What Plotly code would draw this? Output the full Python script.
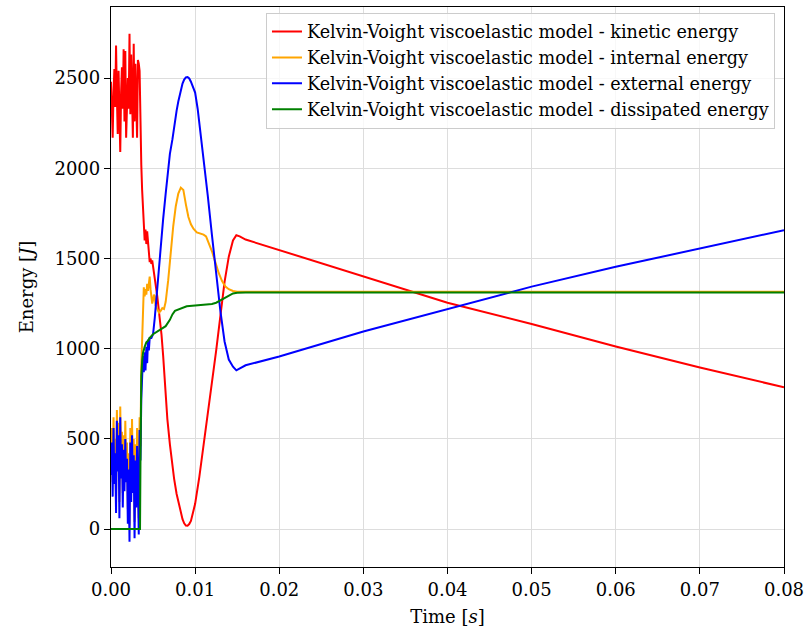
import plotly.graph_objects as go

# ---------------- data ----------------
noise_t = [0.0000, 0.0001, 0.0002, 0.0003, 0.0004, 0.0005, 0.0006, 0.0007, 0.0008, 0.0009,
           0.0010, 0.0011, 0.0012, 0.0013, 0.0014, 0.0015, 0.0016, 0.0017, 0.0018, 0.0019,
           0.0020, 0.0021, 0.0022, 0.0023, 0.0024, 0.0025, 0.0026, 0.0027, 0.0028, 0.0029,
           0.0030, 0.0031, 0.0032, 0.0033, 0.0034, 0.0035]

kin_noise = [2480, 2290, 2170, 2420, 2550, 2340, 2680, 2400, 2190, 2540,
             2300, 2090, 2420, 2560, 2330, 2660, 2260, 2650, 2170, 2340,
             2500, 2330, 2745, 2300, 2630, 2420, 2170, 2690, 2260, 2580,
             2400, 2170, 2600, 2580, 2540, 2210]
ext_noise = [300, 480, 180, 560, 250, 420, 90, 600, 320, 520,
             60, 620, 280, 470, 120, 440, 210, 500, 260, 390,
             30, 330, -70, 480, 150, 520, 200, 410, -50, 380,
             120, 460, 270, -30, 550, 380]
int_noise = [380, 560, 260, 620, 330, 500, 180, 660, 400, 590,
             150, 680, 360, 540, 200, 520, 290, 600, 340, 480,
             110, 420, 20, 560, 240, 610, 280, 500, 40, 470,
             210, 560, 350, 60, 620, 460]

kin_t = [0.0036, 0.0037, 0.0038, 0.0039, 0.0040, 0.0041, 0.0042, 0.0043, 0.0044, 0.0045,
         0.0046, 0.0047, 0.0048, 0.0049, 0.0050, 0.0052, 0.0055, 0.0058, 0.0060, 0.0062,
         0.0065, 0.0067, 0.0070, 0.0072, 0.0075, 0.0078, 0.0080, 0.0082, 0.0085, 0.0087,
         0.0089, 0.0091, 0.0093, 0.0095, 0.0100, 0.0105, 0.0110, 0.0115, 0.0120, 0.0125,
         0.0130, 0.0135, 0.0140, 0.0145, 0.0149, 0.0153, 0.0160, 0.0200, 0.0300, 0.0400,
         0.0500, 0.0600, 0.0700, 0.0800]
kin_e = [2020, 1880, 1770, 1650, 1600, 1660, 1580, 1650, 1590, 1510,
         1480, 1500, 1470, 1490, 1450, 1390, 1290, 1170, 1080, 960,
         740, 610, 470, 385, 280, 195, 150, 110, 55, 32,
         20, 19, 28, 45, 140, 290, 460, 620, 790, 990,
         1180, 1370, 1510, 1600, 1629, 1623, 1605, 1546, 1399, 1255,
         1137, 1012, 896, 786]

ext_t = [0.0036, 0.0037, 0.0038, 0.0039, 0.0040, 0.0041, 0.0042, 0.0043, 0.0044, 0.0045,
         0.0046, 0.0048, 0.0050, 0.0052, 0.0054, 0.0056, 0.0058, 0.0060, 0.0062, 0.0065,
         0.0068, 0.0070, 0.0073, 0.0075, 0.0078, 0.0080, 0.0083, 0.0085, 0.0087, 0.0089,
         0.0091, 0.0093, 0.0095, 0.0098, 0.0100, 0.0103, 0.0105, 0.0110, 0.0115, 0.0120,
         0.0125, 0.0130, 0.0135, 0.0140, 0.0145, 0.0149, 0.0160, 0.0200, 0.0300, 0.0400,
         0.0500, 0.0600, 0.0700, 0.0800]
ext_e = [720, 900, 960, 870, 980, 880, 1010, 920, 1050, 990,
         1060, 1060, 1080, 1170, 1290, 1410, 1520, 1620, 1720, 1860,
         2000, 2080, 2160, 2230, 2320, 2370, 2440, 2470, 2492, 2504,
         2506, 2498, 2480, 2445, 2420, 2330, 2250, 2080, 1850, 1630,
         1420, 1210, 1040, 940, 900, 880, 908, 957, 1095, 1220,
         1344, 1454, 1555, 1657]

int_t = [0.0036, 0.0037, 0.0038, 0.0039, 0.0040, 0.0041, 0.0042, 0.0043, 0.0044, 0.0045,
         0.0046, 0.0047, 0.0048, 0.0049, 0.0050, 0.0051, 0.0052, 0.0053, 0.0055, 0.0057,
         0.0059, 0.0061, 0.0063, 0.0065, 0.0068, 0.0071, 0.0074, 0.0077, 0.0080, 0.0083,
         0.0086, 0.0089, 0.0092, 0.0095, 0.0098, 0.0102, 0.0106, 0.0110, 0.0113, 0.0116,
         0.0120, 0.0124, 0.0128, 0.0132, 0.0136, 0.0140, 0.0145, 0.0150, 0.0160, 0.0800]
int_e = [900, 1100, 1250, 1340, 1290, 1330, 1300, 1360, 1320, 1370,
         1400, 1330, 1280, 1250, 1270, 1300, 1290, 1240, 1220, 1200,
         1210, 1225, 1220, 1260, 1380, 1540, 1680, 1790, 1860, 1893,
         1880, 1800, 1730, 1690, 1665, 1645, 1638, 1632, 1622, 1590,
         1540, 1480, 1420, 1375, 1345, 1330, 1320, 1316, 1316, 1316]

dis_t = [0.0000, 0.00345, 0.0035, 0.00355, 0.0036, 0.0037, 0.0038, 0.0040, 0.0042, 0.0044,
         0.0046, 0.0050, 0.0055, 0.0060, 0.0065, 0.0070, 0.0073, 0.0076, 0.0080, 0.0085,
         0.0090, 0.0100, 0.0110, 0.0120, 0.0125, 0.0130, 0.0135, 0.0140, 0.0145, 0.0150,
         0.0160, 0.0800]
dis_e = [0, 0, 350, 700, 850, 930, 975, 1010, 1035, 1045,
         1060, 1080, 1095, 1110, 1125, 1160, 1190, 1210, 1218, 1228,
         1235, 1240, 1244, 1248, 1255, 1268, 1283, 1297, 1306, 1310,
         1312, 1312]

label_prefix = "Kelvin-Voight viscoelastic model - "
names = ["kinetic energy", "internal energy", "external energy", "dissipated energy"]
colors = ["#ff0000", "#ffa500", "#0000ff", "#008000"]

x_ticks = [0.00, 0.01, 0.02, 0.03, 0.04, 0.05, 0.06, 0.07, 0.08]
y_ticks = [0, 500, 1000, 1500, 2000, 2500]

# ---------------- figure ----------------
series = [
    (noise_t + kin_t, kin_noise + kin_e),
    (noise_t + int_t, int_noise + int_e),
    (noise_t + ext_t, ext_noise + ext_e),
    (dis_t, dis_e),
]

fig = go.Figure()
for (xs, ys), nm, col in zip(series, names, colors):
    fig.add_trace(go.Scatter(x=xs, y=ys, mode="lines", name=label_prefix + nm,
                             line=dict(color=col, width=2)))

FONT = "DejaVu Serif"
fig.update_layout(
    width=810, height=629,
    margin=dict(l=111, r=25, t=6, b=61),
    paper_bgcolor="white", plot_bgcolor="white",
    font=dict(family=FONT, size=18, color="black"),
    showlegend=True,
    legend=dict(x=0.9866, y=0.99, xanchor="right", yanchor="top",
                bgcolor="rgba(255,255,255,0.8)", bordercolor="#cccccc", borderwidth=1,
                font=dict(family=FONT, size=17.6, color="black"),
                tracegroupgap=0, itemwidth=30),
)
fig.update_xaxes(
    range=[0, 0.08], tickvals=x_ticks, ticktext=[f"{v:.2f}" for v in x_ticks],
    showgrid=True, gridcolor="#dddddd", gridwidth=1,
    showline=True, linecolor="black", linewidth=1.3, mirror=True,
    ticks="outside", ticklen=6, tickcolor="black", tickwidth=1.3,
    zeroline=False,
    title=dict(text="Time [<i>s</i>]", font=dict(family=FONT, size=18), standoff=11),
)
fig.update_yaxes(
    range=[-210, 2894], tickvals=y_ticks, ticktext=[str(v) for v in y_ticks],
    showgrid=True, gridcolor="#dddddd", gridwidth=1,
    showline=True, linecolor="black", linewidth=1.3, mirror=True,
    ticks="outside", ticklen=6, tickcolor="black", tickwidth=1.3,
    zeroline=False,
    title=dict(text="Energy [<i>J</i>]", font=dict(family=FONT, size=18), standoff=16),
)

fig.write_html("out.html")
